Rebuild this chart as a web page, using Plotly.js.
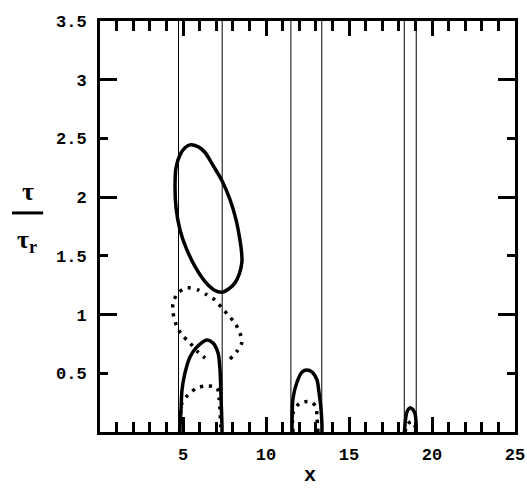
<!DOCTYPE html>
<html>
<head>
<meta charset="utf-8">
<script src="https://cdn.plot.ly/plotly-3.0.1.min.js"></script>
<style>html,body{margin:0;padding:0;background:#fff;}#chart{width:527px;height:490px;}</style>
</head>
<body>
<div id="chart"></div>
<script>
// vertical reference lines (x positions)
const vlineX = [4.73, 7.36, 11.5, 13.36, 18.33, 19.05];
const yTop = 3.5;

// large solid closed loop
const bigLoopX = [5.42,5.90,6.33,6.81,7.35,7.83,8.19,8.43,8.53,8.55,8.40,8.13,7.77,7.35,6.87,6.33,5.72,5.18,4.82,4.58,4.52,4.58,4.82,5.12,5.42];
const bigLoopY = [2.445,2.43,2.38,2.27,2.14,1.98,1.81,1.635,1.53,1.45,1.35,1.27,1.22,1.19,1.21,1.28,1.41,1.57,1.72,1.91,2.09,2.25,2.36,2.42,2.445];

// middle dotted curve
const midDotX = [7.83,8.31,8.55,8.43,8.13,7.71,7.35,6.93,6.45,5.90,5.24,4.70,4.40,4.40,4.64,4.94,5.42,5.90,6.33];
const midDotY = [0.622,0.698,0.767,0.843,0.928,0.997,1.056,1.124,1.167,1.210,1.227,1.184,1.099,1.014,0.894,0.826,0.758,0.681,0.630];

// first band arches
const arch1SolidX = [4.80,4.82,4.88,4.94,5.12,5.42,5.84,6.45,6.81,7.11,7.23,7.29,7.35,7.35];
const arch1SolidY = [0,0.043,0.187,0.358,0.503,0.639,0.724,0.784,0.758,0.673,0.528,0.298,0.043,0];
const arch1DotX = [4.80,4.82,4.94,5.30,5.84,6.45,7.05,7.17,7.23,7.29];
const arch1DotY = [0,0.102,0.247,0.315,0.375,0.392,0.375,0.290,0.187,0];

// second band arches
const arch2SolidX = [11.57,11.57,11.63,11.87,12.17,12.47,12.77,13.07,13.19,13.31,13.37,13.37];
const arch2SolidY = [0,0.085,0.290,0.426,0.511,0.528,0.511,0.443,0.341,0.204,0.060,0];
const arch2DotX = [11.63,11.63,12.05,12.71,13.01,13.07,13.13];
const arch2DotY = [0,0.162,0.247,0.256,0.213,0.128,0];

// third band arches
const arch3SolidX = [18.34,18.40,18.49,18.67,18.86,18.98,19.04,19.05];
const arch3SolidY = [0,0.10,0.17,0.204,0.19,0.153,0.085,0];
const arch3DotX = [18.37,18.55,18.80,18.98,19.04];
const arch3DotY = [0,0.07,0.09,0.05,0];

// ticks
const xTickVals = [5,10,15,20,25];
const xTickText = ['5','10','15','20','25'];
const yTickVals = [0.5,1,1.5,2,2.5,3,3.5];
const yTickText = ['0.5','1','1.5','2','2.5','3','3.5'];
const yLongTicks = [1,2,3];

const traces = [];
vlineX.forEach(v => traces.push({x:[v,v], y:[0,yTop], mode:'lines', line:{color:'#000', width:1}, hoverinfo:'skip'}));

const solid = {color:'#000', width:3.5, shape:'spline', smoothing:0.8};
const dotted = {color:'#000', width:3.5, shape:'spline', smoothing:0.8, dash:'3px,6px'};
traces.push({x:bigLoopX, y:bigLoopY, mode:'lines', line:solid});
traces.push({x:midDotX, y:midDotY, mode:'lines', line:dotted});
traces.push({x:arch1SolidX, y:arch1SolidY, mode:'lines', line:solid});
traces.push({x:arch1DotX, y:arch1DotY, mode:'lines', line:dotted});
traces.push({x:arch2SolidX, y:arch2SolidY, mode:'lines', line:solid});
traces.push({x:arch2DotX, y:arch2DotY, mode:'lines', line:dotted});
traces.push({x:arch3SolidX, y:arch3SolidY, mode:'lines', line:solid});
traces.push({x:arch3DotX, y:arch3DotY, mode:'lines', line:dotted});
// helper trace so overlay axis is drawn
traces.push({x:[null], y:[null], yaxis:'y2', mode:'lines', hoverinfo:'skip'});

const tickFont = {family:'Liberation Mono', size:17, color:'#000', weight:'bold'};

const layout = {
  width:527, height:490,
  margin:{l:100, r:12, t:21, b:58},
  paper_bgcolor:'#fff', plot_bgcolor:'#fff',
  showlegend:false,
  xaxis:{
    range:[0,25], showgrid:false, zeroline:false,
    showline:true, linewidth:3, linecolor:'#000', mirror:'ticks',
    ticks:'inside', tickmode:'array', tickvals:xTickVals, ticktext:xTickText,
    ticklen:15, tickwidth:3, tickcolor:'#000', tickfont:tickFont, ticklabelstandoff:5,
    minor:{tickmode:'linear', tick0:0, dtick:1, ticks:'inside', ticklen:10, tickwidth:3, tickcolor:'#000', showgrid:false}
  },
  yaxis:{
    range:[0,3.5], showgrid:false, zeroline:false,
    showline:true, linewidth:3, linecolor:'#000', mirror:'ticks',
    ticks:'inside', tickmode:'array', tickvals:yTickVals, ticktext:yTickText,
    ticklen:8, tickwidth:3, tickcolor:'#000', tickfont:tickFont, ticklabelstandoff:7
  },
  yaxis2:{
    overlaying:'y', side:'left', range:[0,3.5], showgrid:false, zeroline:false,
    showline:false, mirror:'ticks', ticks:'inside', tickmode:'array', tickvals:yLongTicks,
    ticklen:17, tickwidth:3, tickcolor:'#000', showticklabels:false
  },
  annotations:[
    {xref:'paper', yref:'paper', x:-0.173, y:0.584, text:'τ', showarrow:false,
     font:{family:'Liberation Serif', size:26, color:'#000', weight:'bold'}, xanchor:'center', yanchor:'middle'},
    {xref:'paper', yref:'paper', x:-0.176, y:0.465, text:'τ<sub>r</sub>', showarrow:false,
     font:{family:'Liberation Serif', size:26, color:'#000', weight:'bold'}, xanchor:'center', yanchor:'middle'},
    {xref:'paper', yref:'paper', x:0.505, y:-0.1375, text:'x', showarrow:false,
     font:{family:'Liberation Mono', size:20, color:'#000', weight:'bold'}, xanchor:'center', yanchor:'bottom'}
  ],
  shapes:[
    {type:'line', xref:'paper', yref:'paper', x0:-0.212, x1:-0.137, y0:0.533, y1:0.533, line:{color:'#000', width:3}}
  ]
};

Plotly.newPlot('chart', traces, layout, {displayModeBar:false, staticPlot:true});
</script>
</body>
</html>
